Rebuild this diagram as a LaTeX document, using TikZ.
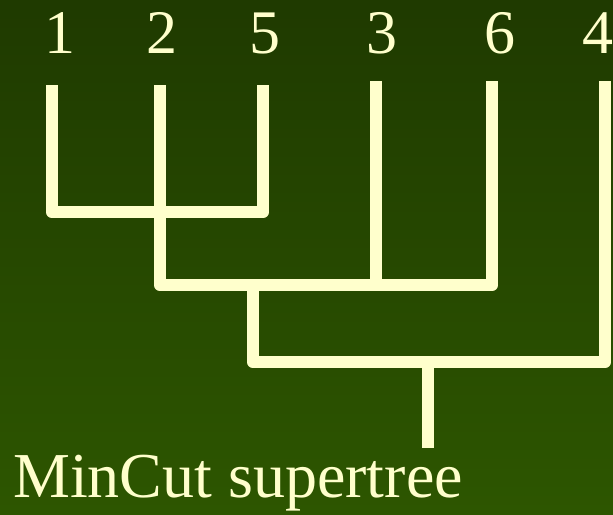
\documentclass[tikz,border=0pt]{standalone}
\usepackage{fontspec}
\setmainfont{Liberation Serif}
\definecolor{cream}{HTML}{FFFFCC}
\definecolor{bgtop}{HTML}{1F3A00}
\definecolor{bgbot}{HTML}{2D5600}
\begin{document}
\begin{tikzpicture}[x=1pt,y=-1pt,
  tree/.style={draw=cream, line width=12.5pt, line join=round, line cap=butt},
  lab/.style={text=cream, font=\fontsize{62}{70}\selectfont, inner sep=0pt, anchor=base}]
\useasboundingbox (0,0) rectangle (613,514);
\fill[top color=bgtop, bottom color=bgbot] (0,0) rectangle (613,514);
% leaf labels
\node[lab] (n1) at (60,53) {1};
\node[lab] (n2) at (162,53) {2};
\node[lab] (n5) at (265,53) {5};
\node[lab] (n3) at (382,53) {3};
\node[lab] (n6) at (500,53) {6};
\node[lab] (n4) at (598,53) {4};
% leaf tops
\coordinate (l1) at (52,85);
\coordinate (l2) at (160,85);
\coordinate (l5) at (263,85);
\coordinate (l3) at (376,81);
\coordinate (l6) at (492,81);
\coordinate (l4) at (605,81);
% internal nodes
\coordinate (a1) at (52,212);
\coordinate (a5) at (263,212);
\coordinate (b2) at (160,285);
\coordinate (b3) at (376,285);
\coordinate (b6) at (492,285);
\coordinate (bm) at (253,285);
\coordinate (c1) at (253,362);
\coordinate (cr) at (428,362);
\coordinate (c4) at (605,362);
\coordinate (root) at (428,448);
\draw[tree] (l1) -- (a1) -- (a5) -- (l5);
\draw[tree] (l2) -- (b2) -- (b6) -- (l6);
\draw[tree] (l3) -- (b3);
\draw[tree] (bm) -- (c1) -- (c4) -- (l4);
\draw[tree] (cr) -- (root);
\node[lab, anchor=base west, font=\fontsize{64}{72}\selectfont] (title) at (13,497) {MinCut supertree};
\end{tikzpicture}
\end{document}
